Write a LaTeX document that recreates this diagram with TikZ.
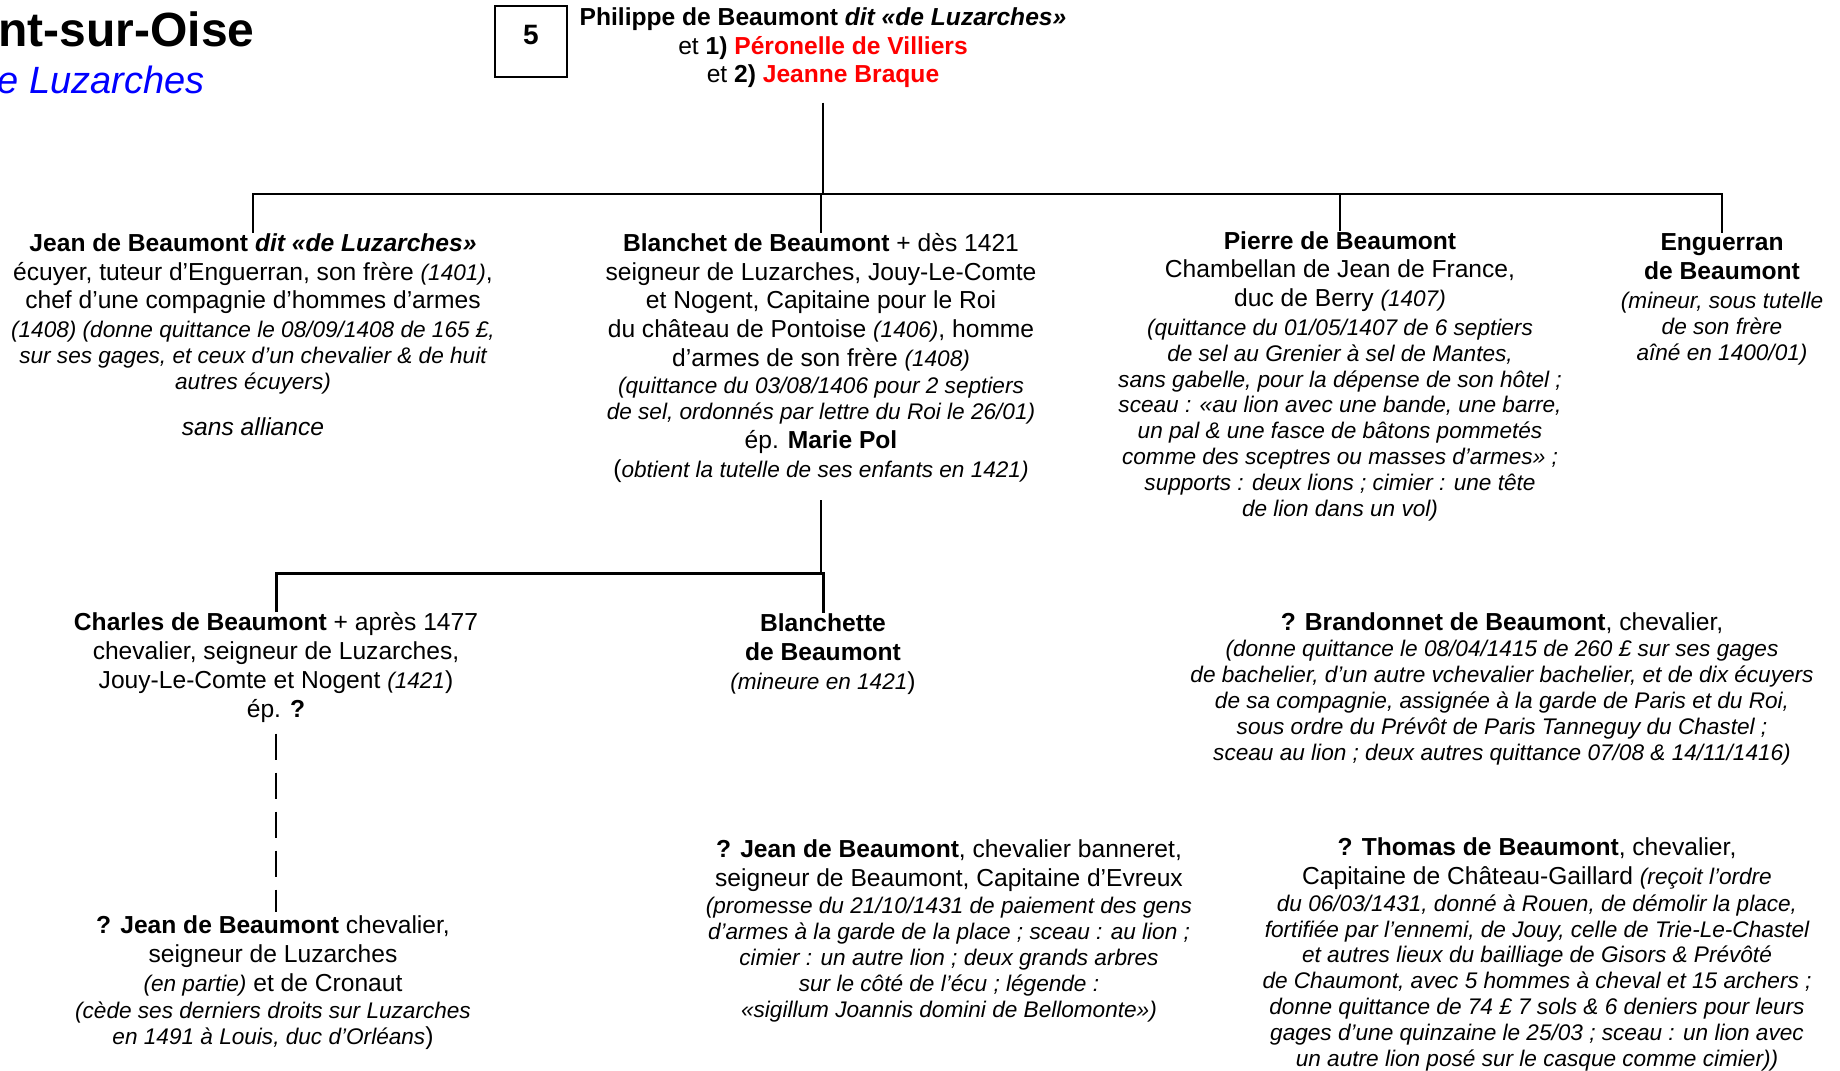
\documentclass[tikz,border=0pt]{standalone}
\usepackage{fontspec}
\setmainfont{Liberation Sans}

\newcommand\smallit[1]{{\fontsize{11.3}{12.9}\selectfont\itshape #1}}

\tikzset{
  person/.style={align=center, anchor=base, inner sep=0pt, font=\fontsize{12.3}{14.4}\selectfont},
  link/.style={line width=1pt},
  dashlink/.style={line width=1pt, dash pattern=on 13pt off 6.5pt},
}

\begin{document}
\begin{tikzpicture}[x=0.5pt,y=-0.5pt]
  \useasboundingbox (0,0) rectangle (1840,1070);

  % titre de la page
  \node[anchor=base east, inner sep=0pt, font=\fontsize{24}{28}\selectfont\bfseries] (titre) at (255,47) {Beaumont-sur-Oise};
  \node[anchor=base east, inner sep=0pt, font=\fontsize{19}{22}\selectfont\itshape, text=blue] (soustitre) at (205,94) {de Luzarches};
  \node[draw, line width=0.8pt, minimum width=36pt, minimum height=35.5pt, text depth=7pt, inner sep=0pt,
        font=\fontsize{14}{16}\selectfont\bfseries] (num) at (531,41.5) {5};

  % (les noeuds sont places sur la ligne de base de leur derniere ligne)
  \node[person] (phil) at (823,83) {\textbf{Philippe de Beaumont \textit{dit «de Luzarches»}}\\
    et \textbf{1) \textcolor{red}{Péronelle de Villiers}}\\
    et \textbf{2) \textcolor{red}{Jeanne Braque}}};

  % enfants
  \node[person] (jean) at (253,435) {\textbf{Jean de Beaumont \textit{dit «de Luzarches»}}\\
    écuyer, tuteur d’Enguerran, son frère \smallit{(1401)},\\
    chef d’une compagnie d’hommes d’armes\\
    \smallit{(1408) (donne quittance le 08/09/1408 de 165 £,}\\[-1.5pt]
    \smallit{sur ses gages, et ceux d’un chevalier \& de huit}\\[-1.5pt]
    \smallit{autres écuyers)}\\[8.5pt]
    \textit{sans alliance}};

  \node[person] (blanchet) at (821,477) {\textbf{Blanchet de Beaumont} + dès 1421\\
    seigneur de Luzarches, Jouy-Le-Comte\\
    et Nogent, Capitaine pour le Roi\\
    du château de Pontoise \smallit{(1406)}, homme\\
    d’armes de son frère \smallit{(1408)}\\[-0.8pt]
    \smallit{(quittance du 03/08/1406 pour 2 septiers}\\[-1.5pt]
    \smallit{de sel, ordonnés par lettre du Roi le 26/01)}\\
    ép. \textbf{Marie Pol}\\
    (\smallit{obtient la tutelle de ses enfants en 1421)}};

  \node[person] (pierre) at (1340,516) {\textbf{Pierre de Beaumont}\\
    Chambellan de Jean de France,\\
    duc de Berry \smallit{(1407)}\\
    \smallit{(quittance du 01/05/1407 de 6 septiers}\\[-1.5pt]
    \smallit{de sel au Grenier à sel de Mantes,}\\[-1.5pt]
    \smallit{sans gabelle, pour la dépense de son hôtel ;}\\[-1.5pt]
    \smallit{sceau : «au lion avec une bande, une barre,}\\[-1.5pt]
    \smallit{un pal \& une fasce de bâtons pommetés}\\[-1.5pt]
    \smallit{comme des sceptres ou masses d’armes» ;}\\[-1.5pt]
    \smallit{supports : deux lions ; cimier : une tête}\\[-1.5pt]
    \smallit{de lion dans un vol)}};

  \node[person] (engu) at (1722,360) {\textbf{Enguerran}\\
    \textbf{de Beaumont}\\
    \smallit{(mineur, sous tutelle}\\[-1.5pt]
    \smallit{de son frère}\\[-1.5pt]
    \smallit{aîné en 1400/01)}};

  % petits-enfants
  \node[person] (charles) at (276,717) {\textbf{Charles de Beaumont} + après 1477\\
    chevalier, seigneur de Luzarches,\\
    Jouy-Le-Comte et Nogent \smallit{(1421})\\
    ép. \textbf{?}};

  \node[person] (blanchette) at (823,689) {\textbf{Blanchette}\\
    \textbf{de Beaumont}\\
    \smallit{(mineure en 1421})};

  \node[person] (brandonnet) at (1502,760) {\textbf{? Brandonnet de Beaumont}, chevalier,\\[-1pt]
    \smallit{(donne quittance le 08/04/1415 de 260 £ sur ses gages}\\[-1.5pt]
    \smallit{de bachelier, d’un autre vchevalier bachelier, et de dix écuyers}\\[-1.5pt]
    \smallit{de sa compagnie, assignée à la garde de Paris et du Roi,}\\[-1.5pt]
    \smallit{sous ordre du Prévôt de Paris Tanneguy du Chastel ;}\\[-1.5pt]
    \smallit{sceau au lion ; deux autres quittance 07/08 \& 14/11/1416)}};

  \node[person] (jeanb) at (273,1044) {\textbf{? Jean de Beaumont} chevalier,\\
    seigneur de Luzarches\\
    \smallit{(en partie)} et de Cronaut\\[-0.8pt]
    \smallit{(cède ses derniers droits sur Luzarches}\\[-1.5pt]
    \smallit{en 1491 à Louis, duc d’Orléans})};

  \node[person] (jeanban) at (949,1017) {\textbf{? Jean de Beaumont}, chevalier banneret,\\
    seigneur de Beaumont, Capitaine d’Evreux\\[-0.8pt]
    \smallit{(promesse du 21/10/1431 de paiement des gens}\\[-1.5pt]
    \smallit{d’armes à la garde de la place ; sceau : au lion ;}\\[-1.5pt]
    \smallit{cimier : un autre lion ; deux grands arbres}\\[-1.5pt]
    \smallit{sur le côté de l’écu ; légende :}\\[-1.5pt]
    \smallit{«sigillum Joannis domini de Bellomonte»)}};

  \node[person] (thomas) at (1537,1066) {\textbf{? Thomas de Beaumont}, chevalier,\\
    Capitaine de Château-Gaillard \smallit{(reçoit l’ordre}\\[-0.8pt]
    \smallit{du 06/03/1431, donné à Rouen, de démolir la place,}\\[-1.5pt]
    \smallit{fortifiée par l’ennemi, de Jouy, celle de Trie-Le-Chastel}\\[-1.5pt]
    \smallit{et autres lieux du bailliage de Gisors \& Prévôté}\\[-1.5pt]
    \smallit{de Chaumont, avec 5 hommes à cheval et 15 archers ;}\\[-1.5pt]
    \smallit{donne quittance de 74 £ 7 sols \& 6 deniers pour leurs}\\[-1.5pt]
    \smallit{gages d’une quinzaine le 25/03 ; sceau : un lion avec}\\[-1.5pt]
    \smallit{un autre lion posé sur le casque comme cimier))}};

  % traits de filiation
  \coordinate (topbar) at (0,194);
  \coordinate (lowbar) at (0,573);
  \draw[link, shorten <=7pt] (phil.south) -- (phil.south |- topbar);
  \draw[link] (jean.north) -- (jean.north |- topbar) -- (engu.north |- topbar) -- (engu.north);
  \foreach \n in {blanchet,pierre}
    \draw[link] (\n.north |- topbar) -- (\n.north);
  \draw[link, shorten <=9pt] (blanchet.south) -- (blanchet.south |- lowbar);
  \draw[link, line width=1.5pt] (charles.north) -- (charles.north |- lowbar) -- (blanchette.north |- lowbar) -- (blanchette.north);
  \draw[dashlink, shorten <=5.5pt, shorten >=1.5pt] (charles.south) -- (charles.south |- jeanb.north);
\end{tikzpicture}
\end{document}
